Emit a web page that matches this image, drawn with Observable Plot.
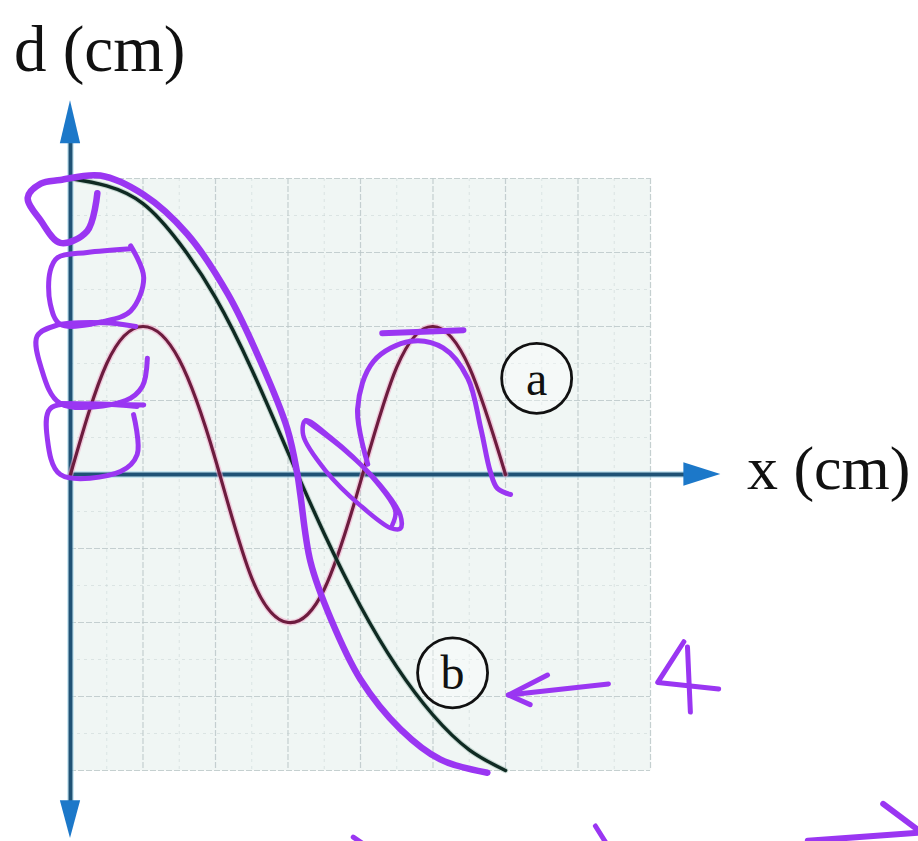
<!DOCTYPE html>
<html>
<head>
<meta charset="utf-8">
<script src="https://cdn.jsdelivr.net/npm/d3@7"></script>
<script src="https://cdn.jsdelivr.net/npm/@observablehq/plot@0.6"></script>
<style>
  body { margin: 0; background: #ffffff; }
  #chart svg { display: block; }
</style>
</head>
<body>
<div id="chart"></div>
<script>
// Position along the string (cm)
const positions = [0, 0.5, 1, 1.5, 2, 2.5, 3, 3.5, 4, 4.5, 5, 5.5, 6];
// Wave (a): displacement d (cm), 1.5 wavelengths
const waveA = [0, 1.5, 2, 1.55, 0.2, -1.4, -2, -1.55, -0.1, 1.45, 2, 1.45, 0];
// Wave (b): displacement d (cm), half a wavelength
const waveB = [4, 3.9, 3.66, 3.13, 2.39, 1.42, 0.3, -0.8, -1.78, -2.6, -3.25, -3.72, -4];

// Grid lines
const majorX = [0, 1, 2, 3, 4, 5, 6, 7, 8];
const majorY = [-4, -3, -2, -1, 0, 1, 2, 3, 4];
const minorX = [0.5, 1.5, 2.5, 3.5, 4.5, 5.5, 6.5, 7.5];
const minorY = [-3.5, -2.5, -1.5, -0.5, 0.5, 1.5, 2.5, 3.5];

// Curve labels
const curveLabels = [
  {label: "a", x: 6.43, y: 1.3},
  {label: "b", x: 5.27, y: -2.68}
];

// Axis extents (shaft ends and arrow tips)
const yAxisShaft = [{x: 0, y: 4.6}, {x: 0, y: -4.5}];
const xAxisShaft = [{x: 0, y: 0}, {x: 8.5, y: 0}];
const headUp = [{x: -0.14, b: 4.47, t: 4.47}, {x: 0, b: 4.47, t: 5.05}, {x: 0.14, b: 4.47, t: 4.47}];
const headDown = [{x: -0.14, b: -4.41, t: -4.41}, {x: 0, b: -4.41, t: -4.92}, {x: 0.14, b: -4.41, t: -4.41}];
const headRight = [{y: -0.16, b: 8.46, t: 8.46}, {y: 0, b: 8.46, t: 8.97}, {y: 0.16, b: 8.46, t: 8.46}];

// Handwritten ink strokes over the diagram: [x, d] pairs
const inkTrace = [[0.37,3.80],[0.23,3.29],[-0.14,3.13],[-0.41,3.43],[-0.59,3.74],[-0.41,3.93],[-0.14,3.98],[0.41,4.04],[1.01,3.78],[1.61,3.25],[2.17,2.44],[2.62,1.53],[2.99,0.62],[3.13,0],[3.17,-0.27],[3.31,-1.18],[3.59,-1.95],[4.0,-2.77],[4.55,-3.44],[5.10,-3.85],[5.75,-4.03]];
const inkLoop2 = [[0.83,3.09],[1.01,2.66],[0.83,2.21],[0.46,2.07],[-0.14,2.03],[-0.28,2.31],[-0.28,2.75],[-0.18,2.93],[0.23,3.0],[0.83,3.05]];
const inkLoop3 = [[1.06,1.57],[0.99,1.19],[0.76,1.0],[-0.14,0.96],[-0.41,1.46],[-0.46,1.87],[-0.21,2.01],[0.46,2.05],[0.9,2.0]];
const inkLoop3Base = [[-0.14,0.96],[1.01,0.94]];
const inkLoop4 = [[0.87,0.81],[0.92,0.27],[0.69,0.04],[-0.14,0],[-0.32,0.49],[-0.28,0.89],[0.23,0.95],[0.92,0.92]];
const inkEllipse = [[3.24,0.73],[3.79,0.32],[4.28,-0.15],[4.55,-0.55],[4.55,-0.73],[4.41,-0.72],[4.0,-0.42],[3.52,0.05],[3.21,0.53],[3.24,0.73],[3.59,0.50],[4.14,-0.01],[4.48,-0.49],[4.44,-0.68]];
const inkArc = [[4.10,0.14],[3.96,0.89],[4.18,1.53],[4.69,1.80],[5.14,1.71],[5.48,1.30],[5.66,0.62],[5.79,0.04],[5.89,-0.19],[6.07,-0.27]];
const inkTop = [[4.30,1.91],[5.42,1.95]];
const inkArrow = [[7.42,-2.83],[6.04,-2.98]];
const inkArrowHead = [[6.58,-2.71],[6.04,-2.98],[6.34,-3.11]];
const inkFourA = [[8.46,-2.26],[8.10,-2.81],[8.94,-2.90]];
const inkFourB = [[8.51,-2.33],[8.55,-3.21]];
const inkBottom1 = [[3.90,-4.90],[4.05,-5.0]];
const inkBottom2 = [[7.24,-4.75],[7.40,-5.0]];
const inkBottom3 = [[10.17,-4.95],[11.70,-4.84]];
const inkBottom4 = [[11.21,-4.45],[11.70,-4.81]];

const inkStrokes = [
  {id: "trace", w: 6.5, pts: inkTrace},
  {id: "loop2", w: 5, pts: inkLoop2},
  {id: "loop3", w: 5, pts: inkLoop3},
  {id: "loop3b", w: 5, pts: inkLoop3Base},
  {id: "loop4", w: 5, pts: inkLoop4},
  {id: "ellipse", w: 4.5, pts: inkEllipse},
  {id: "arc", w: 5, pts: inkArc},
  {id: "top", w: 6, pts: inkTop},
  {id: "arrow", w: 5, pts: inkArrow},
  {id: "arrowHead", w: 5, pts: inkArrowHead},
  {id: "fourA", w: 5, pts: inkFourA},
  {id: "fourB", w: 5, pts: inkFourB},
  {id: "b1", w: 5, pts: inkBottom1},
  {id: "b2", w: 5, pts: inkBottom2},
  {id: "b3", w: 6, pts: inkBottom3},
  {id: "b4", w: 6, pts: inkBottom4}
];

const waveATable = positions.map((x, i) => ({x, d: waveA[i]}));
const waveBTable = positions.map((x, i) => ({x, d: waveB[i]}));

const serif = "'Liberation Serif', 'DejaVu Serif', serif";
const ink = "#9a36f2";
const axisDark = "#1f5275";
const axisHead = "#1c78c9";

const inkMarks = inkStrokes.map(s =>
  Plot.line(s.pts, {
    x: d => d[0], y: d => d[1],
    stroke: ink, strokeWidth: s.w,
    curve: s.pts.length > 3 ? "catmull-rom" : "linear",
    strokeLinecap: "round", strokeLinejoin: "round"
  })
);

const chart = Plot.plot({
  width: 918,
  height: 841,
  marginLeft: 70,
  marginRight: 268,
  marginTop: 178,
  marginBottom: 71,
  x: {domain: [0, 8], axis: null},
  y: {domain: [-4, 4], axis: null},
  style: {background: "#ffffff"},
  marks: [
    Plot.frame({fill: "#f0f6f4", stroke: "none"}),
    Plot.ruleX(minorX, {stroke: "#c4d0d0", strokeWidth: 0.8, strokeDasharray: "3,4", strokeOpacity: 0.6}),
    Plot.ruleY(minorY, {stroke: "#c4d0d0", strokeWidth: 0.8, strokeDasharray: "3,4", strokeOpacity: 0.6}),
    Plot.ruleX(majorX, {stroke: "#bcc8c9", strokeWidth: 1.2, strokeDasharray: "6,2", strokeOpacity: 0.85}),
    Plot.ruleY(majorY, {stroke: "#bcc8c9", strokeWidth: 1.2, strokeDasharray: "6,2", strokeOpacity: 0.85}),

    // axes with arrowheads
    Plot.line(yAxisShaft, {x: "x", y: "y", stroke: "#9fd3ea", strokeWidth: 7, strokeOpacity: 0.5}),
    Plot.line(xAxisShaft, {x: "x", y: "y", stroke: "#9fd3ea", strokeWidth: 7, strokeOpacity: 0.5}),
    Plot.line(yAxisShaft, {x: "x", y: "y", stroke: axisDark, strokeWidth: 4}),
    Plot.line(xAxisShaft, {x: "x", y: "y", stroke: axisDark, strokeWidth: 4}),
    Plot.areaY(headUp, {x: "x", y1: "b", y2: "t", fill: axisHead}),
    Plot.areaY(headDown, {x: "x", y1: "b", y2: "t", fill: axisHead}),
    Plot.areaX(headRight, {y: "y", x1: "b", x2: "t", fill: axisHead}),

    // waves
    Plot.line(waveATable, {x: "x", y: "d", curve: "natural", stroke: "#f0a6c8", strokeWidth: 6, strokeOpacity: 0.55}),
    Plot.line(waveATable, {x: "x", y: "d", curve: "natural", stroke: "#6d1c3e", strokeWidth: 3.2}),
    Plot.line(waveBTable, {x: "x", y: "d", curve: "natural", stroke: "#8fb0a4", strokeWidth: 5.5, strokeOpacity: 0.45}),
    Plot.line(waveBTable, {x: "x", y: "d", curve: "natural", stroke: "#0f2a22", strokeWidth: 3.4}),

    // circled curve labels
    Plot.dot(curveLabels, {x: "x", y: "y", r: 35, stroke: "#111", strokeWidth: 2.8, fill: "#ffffff", fillOpacity: 0.35}),
    Plot.text(curveLabels, {x: "x", y: "y", text: "label", fontSize: 48, fontFamily: serif, fill: "#111", dy: 1}),

    // axis titles
    Plot.text(["d (cm)"], {x: -0.78, y: 5.45, text: d => d, textAnchor: "start", lineAnchor: "bottom", fontSize: 65, fontFamily: serif, fill: "#111"}),
    Plot.text(["x (cm)"], {x: 9.33, y: -0.2, text: d => d, textAnchor: "start", lineAnchor: "bottom", fontSize: 62, fontFamily: serif, fill: "#111"}),

    // handwritten ink
    ...inkMarks
  ]
});

document.getElementById("chart").appendChild(chart);
</script>
</body>
</html>
